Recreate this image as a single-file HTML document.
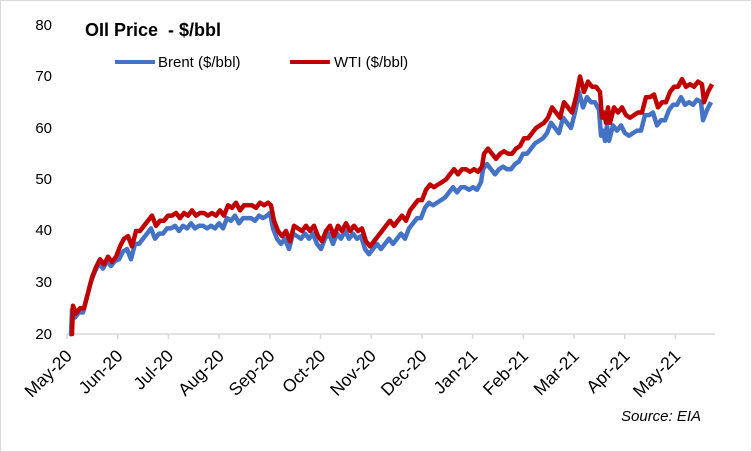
<!DOCTYPE html>
<html><head><meta charset="utf-8"><style>
html,body{margin:0;padding:0;background:#fff}
svg{display:block;font-family:"Liberation Sans",Arial,sans-serif}
</style></head><body>
<svg id="s" width="752" height="452" xmlns="http://www.w3.org/2000/svg">
<rect x="0.5" y="0.5" width="751" height="451" fill="#fff" stroke="#d9d9d9"/>
<g font-size="15" fill="#000" text-anchor="end">
<text x="52" y="30">80</text><text x="52" y="81">70</text><text x="52" y="133">60</text>
<text x="52" y="184">50</text><text x="52" y="235">40</text><text x="52" y="287">30</text><text x="52" y="339">20</text>
</g>
<line x1="67" y1="334" x2="715" y2="334" stroke="#d9d9d9" stroke-width="1.5"/>
<g id="ticks"></g>
<text x="85" y="36" font-size="18" font-weight="bold">OIl Price &#160;- $/bbl</text>
<line x1="115" y1="62" x2="155" y2="62" stroke="#4472c4" stroke-width="4"/>
<text x="158" y="67" font-size="15">Brent ($/bbl)</text>
<line x1="290" y1="62" x2="330" y2="62" stroke="#c00000" stroke-width="4"/>
<text x="334" y="67" font-size="15">WTI ($/bbl)</text>
<text x="621" y="421" font-size="15" font-style="italic">Source: EIA</text>
<polyline id="b" fill="none" stroke="#4472c4" stroke-width="4.5" stroke-linejoin="round"/>
<polyline id="w" fill="none" stroke="#c00000" stroke-width="4.5" stroke-linejoin="round"/>
</svg>
<script>
var d=[70,20,72,20,73,25.5,76,24,80,25,84,25,88,28,92,31,96,33,100,34.5,104,33.5,108,35,112,34,116,35,120,37,124,38.5,128,39,132,37,136,40,140,40,144,41,148,42,152,43,156,41,160,42,164,42,168,43,172,43,176,43.5,180,42.5,184,43.5,188,43,192,44,196,43,200,43.5,204,43.5,208,43,212,43.5,216,43,220,44,224,43,228,45,232,44.5,236,45.5,240,44,244,45,248,45,252,45,256,44.5,260,45.5,264,45,268,45.5,271,45,274,42,278,40,282,39,286,40,290,38,294,41,298,40.5,302,40,306,41,310,40,314,41,318,39,322,38,326,40,330,41,334,39,338,41,342,40,346,41.5,350,40,354,41,358,40,362,40.5,366,38,370,37,374,38,378,39,382,40,386,41,390,42,394,41,398,42,402,43,406,42,410,44,414,45,418,46,422,46,426,48,430,49,434,48.5,438,49,442,49.5,446,50,450,51,454,52,458,51,462,52,466,52,470,51.5,474,52,478,51.5,482,52.5,484,55,488,56,492,55,496,54,500,55,504,55.5,508,55,512,55,516,56,520,56.5,524,58,528,58,532,59,536,60,540,60.5,544,61,548,62,552,64,556,63,560,62,564,65,568,64,572,63,576,66,580,70,584,67,588,69,592,68,596,68,600,67,602,62,604,63,606,61,608,64,610,61,614,64,618,63,622,64,626,62.5,630,62,634,62.5,638,63,642,63,646,66,650,66,654,66.5,658,64,662,65,666,65,670,67,674,68,678,68,682,69.5,686,68,690,68.5,694,68,698,69,702,68.5,704,65,708,67,712,68.5];
function Y(v){return 334-(v-20)*5.15}
function off(x){return x<120?-0.8:x<270?-2.5:x<380?-1.5:x<480?-3.5:x<600?-3:-3.5}
var w=[],b=[];
for(var i=0;i<d.length;i+=2){var x=d[i],v=d[i+1];w.push(x+","+Y(v).toFixed(1));b.push((x-1)+","+Y(Math.max(20,v+off(x))).toFixed(1));}
document.getElementById("w").setAttribute("points",w.join(" "));
document.getElementById("b").setAttribute("points",b.join(" "));
var m=["May-20","Jun-20","Jul-20","Aug-20","Sep-20","Oct-20","Nov-20","Dec-20","Jan-21","Feb-21","Mar-21","Apr-21","May-21"];
var g=document.getElementById("ticks"),h="";
for(var j=0;j<13;j++){var x=67+j*50.7;
h+='<line x1="'+x+'" y1="334" x2="'+x+'" y2="339" stroke="#d9d9d9" stroke-width="1.5"/>';
h+='<text font-size="17.5" text-anchor="end" transform="translate('+(x+6)+',357) rotate(-45)">'+m[j]+'</text>';}
g.innerHTML=h;
</script>
</body></html>
